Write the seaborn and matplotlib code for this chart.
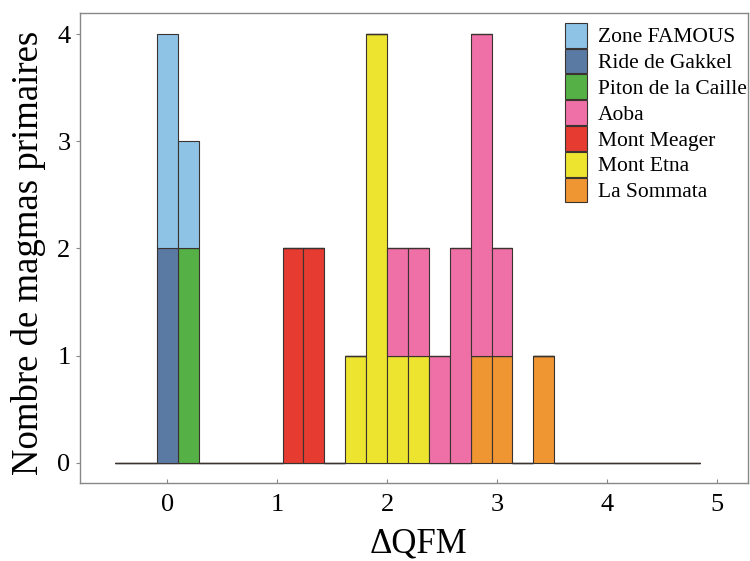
import numpy as np
import pandas as pd
import seaborn as sns
import matplotlib.pyplot as plt

# Valeurs de ΔQFM estimées pour chaque site
zone_famous = [0.0, 0.05, 0.2]
ride_gakkel = [-0.05, 0.02]
piton_caille = [0.15, 0.22]
aoba = [2.1, 2.3, 2.45, 2.6, 2.7, 2.8, 2.85, 2.9, 3.0]
mont_meager = [1.1, 1.2, 1.3, 1.4]
mont_etna = [1.7, 1.85, 1.9, 1.95, 1.98, 2.1, 2.25]
la_sommata = [2.85, 3.05, 3.4]

sites = ["Zone FAMOUS", "Ride de Gakkel", "Piton de la Caille", "Aoba",
         "Mont Meager", "Mont Etna", "La Sommata"]
colors = ["#8ec3e6", "#5a7aa3", "#55b046", "#ee70a7", "#e63b30", "#ece42e", "#ef9532"]

rows = []
for site, vals in zip(sites, [zone_famous, ride_gakkel, piton_caille, aoba,
                              mont_meager, mont_etna, la_sommata]):
    for v in vals:
        rows.append({"site": site, "dqfm": v})
df = pd.DataFrame(rows)

sns.set_style("ticks")
plt.rcParams["font.family"] = ["Liberation Serif", "DejaVu Serif"]
plt.rcParams["text.color"] = "black"
plt.rcParams["axes.labelcolor"] = "black"

fig = plt.figure(figsize=(7.5, 5.61), dpi=100)
ax = fig.add_axes([0.107, 0.139, 0.89, 0.838])

edges = np.linspace(-0.47, 4.85, 29)
sns.histplot(data=df, x="dqfm", hue="site", hue_order=sites, palette=colors,
             bins=edges, multiple="stack", alpha=1, edgecolor="#3a3330",
             linewidth=0.8, ax=ax)

ax.set_xlim(-0.79, 5.28)
ax.set_ylim(-0.19, 4.2)
ax.set_xticks([0, 1, 2, 3, 4, 5])
ax.set_yticks([0, 1, 2, 3, 4])
ax.set_xlabel("ΔQFM", fontsize=25)
ax.set_ylabel("Nombre de magmas primaires", fontsize=26.5)
ax.xaxis.set_label_coords(0.507, -0.095)
ax.yaxis.set_label_coords(-0.051, 0.49)
ax.tick_params(axis="x", direction="in", length=3, labelsize=19, pad=8,
               color="#888888", labelcolor="black")
ax.tick_params(axis="y", direction="out", length=3, labelsize=19, pad=4,
               color="#888888", labelcolor="black")
for s in ax.spines.values():
    s.set_color("#888888")
    s.set_linewidth(1.0)

sns.move_legend(ax, "upper left", bbox_to_anchor=(0.726, 0.979), title=None,
                frameon=False, fontsize=15.5, handlelength=1.05, handleheight=1.39,
                handletextpad=0.5, labelspacing=0.05, borderaxespad=0, borderpad=0)

fig.savefig("out.png", dpi=100)
